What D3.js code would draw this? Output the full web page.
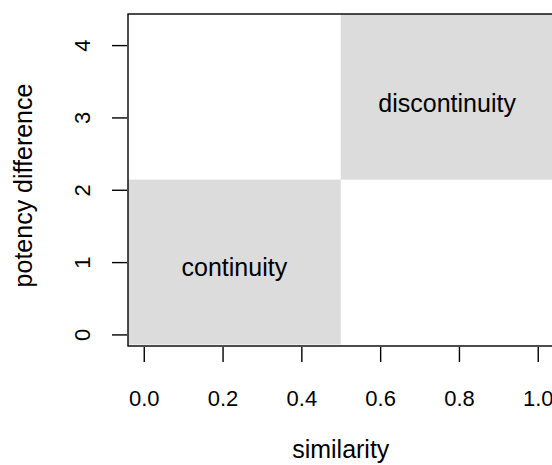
<!DOCTYPE html>
<html>
<head>
<meta charset="utf-8">
<script src="https://cdn.jsdelivr.net/npm/d3@7"></script>
<style>
body{margin:0;background:#fff;}
text{font-family:"Liberation Sans",Arial,Helvetica,sans-serif;fill:#000;}
</style>
</head>
<body>
<div id="chart"></div>
<script>
var w=552;
var h=465;

// data
var regionNames=["continuity","discontinuity"];
var regionX0=[-0.04,0.5];
var regionX1=[0.5,1.04];
var regionY0=[-0.14,2.14];
var regionY1=[2.14,4.43];
var labelY=[0.93,3.2];
var xTicks=[0,0.2,0.4,0.6,0.8,1.0];
var yTicks=[0,1,2,3,4];

var svg=d3.select("#chart").append("svg")
          .attr("width",w)
          .attr("height",h);

var x=d3.scaleLinear().domain([-0.04,1.04]).range([128,553.5]);
var y=d3.scaleLinear().domain([-0.16,4.43]).range([346,14]);

// shaded regions
svg.append("g").selectAll("rect")
   .data(regionNames)
   .enter().append("rect")
     .attr("x",function(d,i){return x(regionX0[i]);})
     .attr("y",function(d,i){return y(regionY1[i]);})
     .attr("width",function(d,i){return x(regionX1[i])-x(regionX0[i]);})
     .attr("height",function(d,i){return y(regionY0[i])-y(regionY1[i]);})
     .attr("fill","#dcdcdc");

svg.append("g").selectAll("text")
   .data(regionNames)
   .enter().append("text")
     .attr("x",function(d,i){return x((regionX0[i]+regionX1[i])/2);})
     .attr("y",function(d,i){return y(labelY[i]);})
     .attr("text-anchor","middle")
     .attr("dominant-baseline","central")
     .attr("font-size",25)
     .text(function(d){return d;});

// box
svg.append("rect")
   .attr("x",128).attr("y",14)
   .attr("width",x(1.04)-128).attr("height",346-14)
   .attr("fill","none").attr("stroke","#000").attr("stroke-width",1.4);

// x axis
var xAxis=svg.append("g")
   .attr("transform","translate(0,347)")
   .call(d3.axisBottom(x).tickValues(xTicks).tickFormat(d3.format(".1f")).tickSize(15).tickPadding(28));
xAxis.select(".domain").remove();
xAxis.selectAll("line").attr("stroke-width",1.4);
xAxis.selectAll("text").attr("font-size",22)
     .attr("font-family","Liberation Sans,Arial,sans-serif");

// y axis
var yAxis=svg.append("g")
   .attr("transform","translate(127,0)")
   .call(d3.axisLeft(y).tickValues(yTicks).tickFormat(d3.format("d")).tickSize(15).tickPadding(0));
yAxis.select(".domain").remove();
yAxis.selectAll("line").attr("stroke-width",1.4);
yAxis.selectAll("text")
     .attr("font-size",22)
     .attr("font-family","Liberation Sans,Arial,sans-serif")
     .attr("x",null).attr("dy",null)
     .attr("text-anchor","middle")
     .attr("transform","translate(-37,0) rotate(-90)");

// axis titles
svg.append("text")
   .attr("x",x(0.5)).attr("y",458)
   .attr("text-anchor","middle")
   .attr("font-size",25)
   .text("similarity");

svg.append("text")
   .attr("transform","translate(32,185.5) rotate(-90)")
   .attr("text-anchor","middle")
   .attr("font-size",25)
   .text("potency difference");
</script>
</body>
</html>
